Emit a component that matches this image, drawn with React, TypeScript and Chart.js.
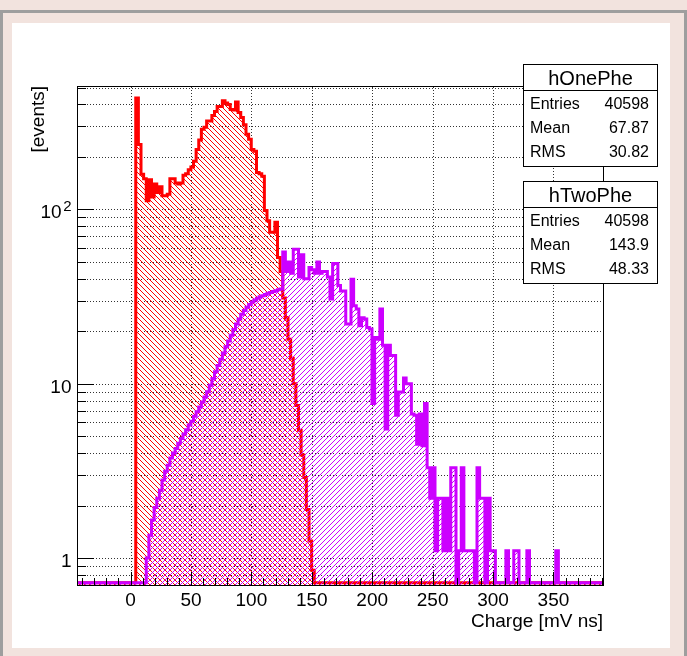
import React, { useEffect, useRef } from 'react';
import { Chart, registerables } from 'chart.js';

Chart.register(...registerables);

// ---------- data ----------
const histMin = -43.5;
const histMax = 391;
const nBins = 200;

const onePheFirstBin = 22;
const onePheValues = [
  436, 236, 159, 150, 112, 148, 118, 140, 125, 135,
  120, 120, 122, 150, 150, 142, 140, 142, 157, 160,
  169, 175, 189, 221, 250, 288, 296, 322, 322, 346,
  365, 389, 389, 420, 408, 400, 375, 372, 413, 360,
  337, 306, 270, 253, 221, 216, 163, 160, 155, 98.5,
  86, 74, 74, 84.5, 53, 44, 31, 24, 18, 14,
  10, 7.5, 5.4, 3.9, 2.9, 1.9, 1.25, 0.85,
];

const twoPheFirstBin = 26;
const twoPheValues = [
  1.0, 1.35, 1.65, 1.95, 2.2, 2.45, 2.8, 3.15, 3.4, 3.75,
  4.0, 4.25, 4.55, 4.85, 5.15, 5.45, 5.8, 6.1, 6.5, 6.9,
  7.35, 7.85, 8.4, 9.0, 9.8, 10.7, 11.7, 12.7, 13.8, 15.0,
  16.3, 17.6, 19.0, 20.5, 22, 23.5, 25, 26.3, 27.5, 28.5,
  29.4, 30.2, 30.9, 31.5, 32, 32.5, 33, 33.4, 33.8, 34.2,
  34.6, 35,
  57, 44, 50, 43, 59, 59, 41, 55, 40, 40,
  46.5, 45, 43, 50, 43, 44, 44, 41, 30.6, 49,
  49, 36.6, 34, 34, 22, 22, 39.8, 28, 26.8, 21.5,
  23.9, 23.5, 21, 20.6, 7.7, 18.4, 18, 26.8, 16.6, 5.5,
  16.6, 14.5, 14.5, 6.6, 8.95, 8.95, 10.8, 10, 10, 6.7,
  6.6, 4.5, 6.7, 4.4, 7.7,
  3.3, 2.2, 3.3, 1.1, 2.2, 2.2, 1.1, 2.2, 1.1, 3.3,
  3.3, 0, 1.1, 3.3, 1.1, 1.1, 1.1, 1.1, 0, 3.3,
  2.2, 2.2, 0, 2.2, 1.1, 1.1, 0, 0, 0, 0,
  1.1, 0, 0, 1.1, 1.1, 0, 0, 0, 1.1, 0,
  0, 0, 0, 0, 0, 0, 0, 0, 0, 1.1,
];

const xMajorTicks = [0, 50, 100, 150, 200, 250, 300, 350];
const xMinorStep = 10;
const yMin = 0.72;
const yMax = 504;
const yLabelValues = [1, 10, 100];
const yLabelBases = ['1', '10', '10'];
const yLabelExponents = ['', '', '2'];

const statsOneTitle = 'hOnePhe';
const statsOneLabels = ['Entries', 'Mean', 'RMS'];
const statsOneValues = ['40598', '67.87', '30.82'];
const statsTwoTitle = 'hTwoPhe';
const statsTwoLabels = ['Entries', 'Mean', 'RMS'];
const statsTwoValues = ['40598', '143.9', '48.33'];

const xTitle = 'Charge [mV ns]';
const yTitle = '[events]';

// ---------- helpers ----------
const W = 687;
const H = 656;
const FONT = '"Liberation Sans", Arimo, Arial, Helvetica, sans-serif';
const RED = '#ff0000';
const VIOLET = '#cc00ff';

const binWidth = (histMax - histMin) / nBins;

function fullHist(first: number, vals: number[]) {
  const arr = new Array(nBins).fill(0);
  vals.forEach((v, i) => {
    if (first + i < nBins) arr[first + i] = v;
  });
  return arr;
}

function toPoints(arr: number[]) {
  const pts = arr.map((v, i) => ({ x: histMin + i * binWidth, y: v > 0 ? v : yMin }));
  pts.push({ x: histMax, y: pts[pts.length - 1].y });
  return pts;
}

function yTickValues() {
  const out: number[] = [];
  for (let e = -1; e <= 2; e++) {
    for (let m = 1; m <= 9; m++) {
      const v = m * Math.pow(10, e);
      if (v >= yMin && v <= yMax) out.push(Number(v.toPrecision(6)));
    }
  }
  return out;
}

function xMinorTicks() {
  const out: number[] = [];
  for (let v = Math.ceil(histMin / xMinorStep) * xMinorStep; v <= histMax; v += xMinorStep) out.push(v);
  return out;
}

function makeHatch(ctx: CanvasRenderingContext2D, color: string, dir: string) {
  const s = 5;
  const c = document.createElement('canvas');
  c.width = s;
  c.height = s;
  const t = c.getContext('2d')!;
  t.fillStyle = color;
  for (let y = 0; y < s; y++) {
    for (let x = 0; x < s; x++) {
      const on = dir === '/' ? (x + y) % s === s - 1 : (x - y + s) % s === 0;
      if (on) t.fillRect(x, y, 1, 1);
    }
  }
  return ctx.createPattern(c, 'repeat');
}

function drawStats(ctx: CanvasRenderingContext2D, top: number, title: string, labels: string[], values: string[]) {
  const left = 523.5;
  const right = 657.5;
  const height = 102;
  const titleH = 26;
  ctx.save();
  ctx.fillStyle = '#ffffff';
  ctx.fillRect(left, top, right - left, height);
  ctx.strokeStyle = '#000';
  ctx.lineWidth = 1;
  ctx.strokeRect(left, top, right - left, height);
  ctx.beginPath();
  ctx.moveTo(left, top + titleH);
  ctx.lineTo(right, top + titleH);
  ctx.stroke();
  ctx.fillStyle = '#000';
  ctx.font = `20px ${FONT}`;
  ctx.textAlign = 'center';
  ctx.textBaseline = 'alphabetic';
  ctx.fillText(title, (left + right) / 2, top + 20.5);
  ctx.font = `16px ${FONT}`;
  labels.forEach((lab, i) => {
    const yb = top + titleH + 18.5 + i * 23.8;
    ctx.textAlign = 'left';
    ctx.fillText(lab, 530, yb);
    ctx.textAlign = 'right';
    ctx.fillText(values[i], 649, yb);
  });
  ctx.restore();
}

const rootPlugin = {
  id: 'rootStyle',
  beforeDraw(chart: any) {
    const ctx: CanvasRenderingContext2D = chart.ctx;
    ctx.save();
    ctx.fillStyle = '#f2e3de';
    ctx.fillRect(0, 0, W, H);
    ctx.strokeStyle = '#9e9e9e';
    ctx.lineWidth = 3;
    ctx.strokeRect(1.5, 11.5, W - 3, H + 10);
    ctx.fillStyle = '#ffffff';
    ctx.fillRect(12, 23, 658, 625);
    ctx.restore();
  },
  beforeDatasetsDraw(chart: any) {
    const ctx: CanvasRenderingContext2D = chart.ctx;
    const a = chart.chartArea;
    const x = chart.scales.x;
    const y = chart.scales.y;
    ctx.save();
    ctx.strokeStyle = '#333';
    ctx.lineWidth = 1;
    ctx.setLineDash([1, 2]);
    ctx.beginPath();
    for (const v of xMajorTicks) {
      const px = Math.round(x.getPixelForValue(v)) + 0.5;
      ctx.moveTo(px, a.top);
      ctx.lineTo(px, a.bottom);
    }
    for (const v of yTickValues()) {
      const py = Math.round(y.getPixelForValue(v)) + 0.5;
      ctx.moveTo(a.left, py);
      ctx.lineTo(a.right, py);
    }
    ctx.stroke();
    ctx.setLineDash([]);
    ctx.strokeStyle = '#000';
    ctx.strokeRect(a.left - 0.5, a.top - 0.5, a.right - a.left + 1, a.bottom - a.top + 1);
    ctx.restore();
  },
  afterDatasetsDraw(chart: any) {
    const ctx: CanvasRenderingContext2D = chart.ctx;
    const a = chart.chartArea;
    const x = chart.scales.x;
    const y = chart.scales.y;
    ctx.save();
    ctx.strokeStyle = '#000';
    ctx.lineWidth = 1;
    ctx.beginPath();
    for (const v of xMinorTicks()) {
      const px = Math.round(x.getPixelForValue(v)) + 0.5;
      const len = v % 50 === 0 ? 13 : 7;
      ctx.moveTo(px, a.bottom);
      ctx.lineTo(px, a.bottom - len);
    }
    for (const v of yTickValues()) {
      const py = Math.round(y.getPixelForValue(v)) + 0.5;
      const isMajor = yLabelValues.some((m) => Math.abs(m - v) < 1e-9);
      const len = isMajor ? 16 : 8;
      ctx.moveTo(a.left, py);
      ctx.lineTo(a.left + len, py);
    }
    ctx.stroke();
    ctx.restore();
  },
  afterDraw(chart: any) {
    const ctx: CanvasRenderingContext2D = chart.ctx;
    const a = chart.chartArea;
    const y = chart.scales.y;
    drawStats(ctx, 64.5, statsOneTitle, statsOneLabels, statsOneValues);
    drawStats(ctx, 181.5, statsTwoTitle, statsTwoLabels, statsTwoValues);
    ctx.save();
    ctx.fillStyle = '#000';
    ctx.textBaseline = 'alphabetic';
    yLabelValues.forEach((v, i) => {
      const py = y.getPixelForValue(v);
      const exp = yLabelExponents[i];
      let right = 71.5;
      if (exp) {
        ctx.font = `15px ${FONT}`;
        ctx.textAlign = 'right';
        ctx.fillText(exp, right, py + 2);
        right -= ctx.measureText(exp).width + 1.5;
      }
      ctx.font = `19px ${FONT}`;
      ctx.textAlign = 'right';
      ctx.fillText(yLabelBases[i], right, py + 9);
    });
    ctx.font = `19px ${FONT}`;
    ctx.textAlign = 'right';
    ctx.fillText(xTitle, a.right, 627);
    ctx.translate(44, 86);
    ctx.rotate(-Math.PI / 2);
    ctx.fillText(yTitle, 0, 0);
    ctx.restore();
  },
};

export default function App() {
  const ref = useRef<HTMLCanvasElement>(null);

  useEffect(() => {
    const canvas = ref.current!;
    const ctx = canvas.getContext('2d')!;
    const redHatch = makeHatch(ctx, RED, '\\');
    const violetHatch = makeHatch(ctx, VIOLET, '/');
    const onePhe = toPoints(fullHist(onePheFirstBin, onePheValues));
    const twoPhe = toPoints(fullHist(twoPheFirstBin, twoPheValues));

    const chart = new Chart(canvas, {
      type: 'line',
      data: {
        datasets: [
          {
            label: statsTwoTitle,
            data: twoPhe,
            stepped: 'before',
            borderColor: VIOLET,
            borderWidth: 3,
            backgroundColor: violetHatch as any,
            fill: 'start',
            pointRadius: 0,
            order: 0,
          },
          {
            label: statsOneTitle,
            data: onePhe,
            stepped: 'before',
            borderColor: RED,
            borderWidth: 3,
            backgroundColor: redHatch as any,
            fill: 'start',
            pointRadius: 0,
            order: 1,
          },
        ],
      },
      options: {
        responsive: false,
        animation: false,
        devicePixelRatio: 1,
        events: [],
        layout: { padding: { left: 0, top: 87, right: 84, bottom: 0 } },
        plugins: {
          legend: { display: false },
          tooltip: { enabled: false },
          title: { display: false },
        },
        scales: {
          x: {
            type: 'linear',
            min: histMin,
            max: histMax,
            grid: { display: false, drawTicks: false },
            border: { display: false },
            afterBuildTicks: (s: any) => {
              s.ticks = xMajorTicks.map((v) => ({ value: v }));
            },
            afterFit: (s: any) => {
              s.height = H - 585;
            },
            ticks: {
              autoSkip: false,
              maxRotation: 0,
              minRotation: 0,
              padding: 4,
              color: '#000',
              font: { family: FONT, size: 19 },
              callback: (v: any) => String(v),
            },
          },
          y: {
            type: 'logarithmic',
            min: yMin,
            max: yMax,
            grid: { display: false, drawTicks: false },
            border: { display: false },
            afterBuildTicks: (s: any) => {
              s.ticks = yTickValues().map((v) => ({ value: v }));
            },
            afterFit: (s: any) => {
              s.width = 78;
            },
            ticks: {
              autoSkip: false,
              padding: 6,
              color: '#000',
              font: { family: FONT, size: 19 },
              callback: () => '',
            },
          },
        },
      },
      plugins: [rootPlugin],
    });
    return () => chart.destroy();
  }, []);

  return (
    <div style={{ position: 'absolute', left: 0, top: 0, width: W, height: H }}>
      <canvas ref={ref} width={W} height={H} style={{ display: 'block', width: W, height: H }} />
    </div>
  );
}
